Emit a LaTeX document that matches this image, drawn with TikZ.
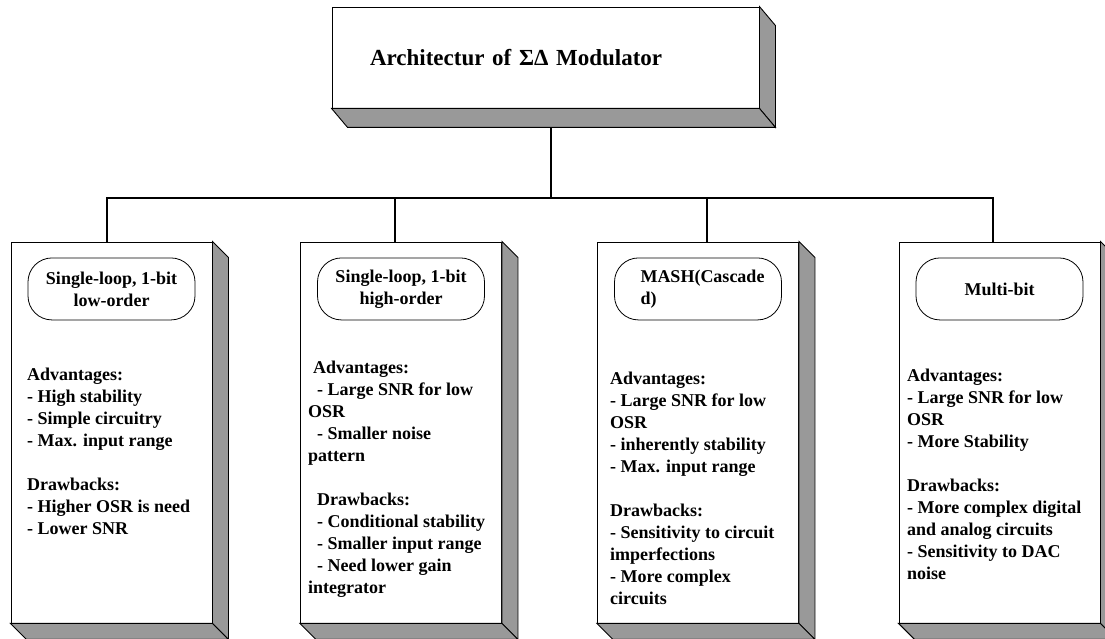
\documentclass[tikz,border=0pt]{standalone}
\usepackage{fontspec}
\setmainfont{Liberation Serif}
\usepackage{tikz}
\usetikzlibrary{positioning}
\definecolor{SDShade}{HTML}{999999}

\newcommand{\bodyfont}{\bfseries\fontsize{18}{22}\selectfont}
\newcommand{\titlefont}{\bfseries\fontsize{23}{27}\selectfont}
% grey side and bottom faces of a box node
\newcommand{\slabside}[3]{%
  \filldraw[fill=SDShade,line width=0.9pt] (#1.north east) -- ++(#2,-#3) -- ([shift={(#2,-#3)}]#1.south east) -- (#1.south east) -- cycle;
  \filldraw[fill=SDShade,line width=0.9pt] (#1.south west) -- ++(#2,-#3) -- ([shift={(#2,-#3)}]#1.south east) -- (#1.south east) -- cycle;
}

\tikzset{
  slab/.style={draw, fill=white, line width=0.9pt, inner sep=0pt},
  headbox/.style={draw, rounded corners=24pt, minimum width=167pt, minimum height=62pt,
    line width=0.8pt, align=center, font=\bodyfont},
  notes/.style={anchor=north west, align=left, inner sep=0pt, font=\bodyfont},
  wire/.style={line width=1.4pt},
}

\begin{document}
\begin{tikzpicture}[x=1pt,y=1pt]
\path[use as bounding box] (0,0) rectangle (1105,639);

% top box
\node[slab, text width=351pt, inner xsep=38pt, minimum height=101pt, align=left, font=\titlefont]
  (arch) at (545.5,581.5) {Architectur of ΣΔ Modulator};
\slabside{arch}{16}{19}

% the four architectures
\node[slab, minimum width=201pt, minimum height=381pt] (single) at (111.5,206.5) {};
\node[slab, minimum width=201pt, minimum height=381pt] (high) at (401,206.5) {};
\node[slab, minimum width=201pt, minimum height=381pt] (mash) at (698,206.5) {};
\node[slab, minimum width=201pt, minimum height=381pt] (multi) at (999.5,206.5) {};
\foreach \b in {single,high,mash,multi} {\slabside{\b}{16}{16}}

\node[headbox, below=16pt of single.north] (singlehd) {Single-loop, 1-bit\\low-order};
\node[headbox, below=16pt of high.north] (highhd) {Single-loop, 1-bit\\high-order};
\node[headbox, below=16pt of mash.north, align=left, text width=115pt, inner xsep=26pt] (mashhd) {MASH(Cascade\\d)};
\node[headbox, below=16pt of multi.north] (multihd) {Multi-bit};

\node[notes] (singletxt) at (27,271.3) {Advantages:\\
- High stability\\
- Simple circuitry\\
- Max. input range\\[22pt]
Drawbacks:\\
- Higher OSR is need\\
- Lower SNR};

\node[notes] (hightxt) at (308,278.3) {\hspace*{5pt}Advantages:\\
\hspace*{9pt}- Large SNR for low\\
OSR\\
\hspace*{9pt}- Smaller noise\\
pattern\\[22pt]
\hspace*{9pt}Drawbacks:\\
\hspace*{9pt}- Conditional stability\\
\hspace*{9pt}- Smaller input range\\
\hspace*{9pt}- Need lower gain\\
integrator};

\node[notes] (mashtxt) at (610,267.3) {Advantages:\\
- Large SNR for low\\
OSR\\
- inherently stability\\
- Max. input range\\[22pt]
Drawbacks:\\
- Sensitivity to circuit\\
imperfections\\
- More complex\\
circuits};

\node[notes] (multitxt) at (907,270.3) {Advantages:\\
- Large SNR for low\\
OSR\\
- More Stability\\[22pt]
Drawbacks:\\
- More complex digital\\
and analog circuits\\
- Sensitivity to DAC\\
noise};

% tree lines
\coordinate (hub) at (551,441);
\draw[wire] ([xshift=5.5pt,yshift=-19pt]arch.south) -- (hub);
\foreach \c/\dx in {single/-4.5, high/-6, mash/9, multi/-6.5}
  \draw[wire] (hub) -| ([xshift=\dx pt]\c.north);
\end{tikzpicture}
\end{document}
